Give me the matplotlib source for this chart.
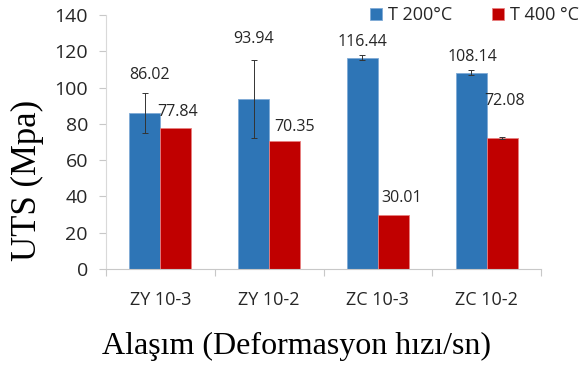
import matplotlib
matplotlib.use("Agg")
import matplotlib.pyplot as plt
from matplotlib.ticker import MultipleLocator, FixedLocator
import numpy as np

# Data
categories = ["ZY 10-3", "ZY 10-2", "ZC 10-3", "ZC 10-2"]
series_names = ["T 200°C", "T 400 °C"]
uts_200 = [86.02, 93.94, 116.44, 108.14]
uts_400 = [77.84, 70.35, 30.01, 72.08]
err_200 = [11.0, 21.5, 1.5, 1.5]
err_400 = [0.0, 0.0, 0.0, 0.7]

# Label offsets (points) from the top centre of each bar
label_off_200 = [(3, 27), (0, 43), (0, 11), (1, 11)]
label_off_400 = [(1, 11), (7, 10), (6, 12), (2, 27)]

BLUE = "#2E75B6"
RED = "#C00000"
GRID_GRAY = "#C8C8C8"
TEXT = "#262626"
SANS = "Open Sans"

fig = plt.figure(figsize=(5.8, 3.65), dpi=100)
ax = fig.add_axes([0.1828, 0.263, 0.75, 0.696])

x = np.arange(len(categories))
w = 0.285

b1 = ax.bar(x - w / 2, uts_200, w, color=BLUE, edgecolor="#7FAAD6", linewidth=0.6,
            label=series_names[0], zorder=2)
b2 = ax.bar(x + w / 2, uts_400, w, color=RED, edgecolor="#E88080", linewidth=0.6,
            label=series_names[1], zorder=2)

# Error bars (only where a spread was measured)
for xs, vals, errs in [(x - w / 2, uts_200, err_200), (x + w / 2, uts_400, err_400)]:
    for xi, v, e in zip(xs, vals, errs):
        if e > 0:
            ax.errorbar(xi, v, yerr=e, fmt="none", ecolor="#333333", elinewidth=0.7,
                        capsize=2.5, capthick=0.7, zorder=3)

# Value labels
for xs, vals, offs in [(x - w / 2, uts_200, label_off_200), (x + w / 2, uts_400, label_off_400)]:
    for xi, v, (dx, dy) in zip(xs, vals, offs):
        ax.annotate(f"{v:.2f}", xy=(xi, v), xytext=(dx, dy), textcoords="offset points",
                    ha="center", va="center", fontsize=11.5, color=TEXT, family=SANS)

ax.set_xlim(-0.5, len(categories) - 0.5)
ax.set_ylim(0, 140)
ax.yaxis.set_major_locator(MultipleLocator(20))

ax.set_xticks(x)
ax.set_xticklabels(categories, fontsize=13, color=TEXT, family=SANS)
ax.xaxis.set_minor_locator(FixedLocator(np.arange(-0.5, len(categories), 1.0)))
ax.tick_params(axis="x", which="major", length=0, pad=16)
ax.tick_params(axis="x", which="minor", length=5, width=0.8, color=GRID_GRAY, direction="out")
ax.tick_params(axis="y", which="major", length=5, width=0.8, color=GRID_GRAY, direction="out",
               labelsize=14, labelcolor=TEXT, pad=8)
for lab in ax.get_yticklabels():
    lab.set_family(SANS)

for s in ["top", "right"]:
    ax.spines[s].set_visible(False)
ax.spines["left"].set_color("#D9D9D9")
ax.spines["bottom"].set_color(GRID_GRAY)
ax.spines["left"].set_linewidth(0.8)
ax.spines["bottom"].set_linewidth(0.8)

fig.text(0.048, 0.505, "UTS (Mpa)", rotation=90, ha="center", va="center",
         fontsize=25, family="Liberation Serif", color="black")
fig.text(0.511, 0.05, "Alaşım (Deformasyon hızı/sn)", ha="center", va="center",
         fontsize=23, family="Liberation Serif", color="black")

leg = fig.legend(handles=[b1, b2], labels=series_names, loc="center right",
                 bbox_to_anchor=(0.998, 0.958), ncol=2, frameon=False,
                 borderpad=0.0, borderaxespad=0.0,
                 handlelength=0.7, handleheight=0.7, handletextpad=0.3,
                 columnspacing=2.2, prop={"family": SANS, "size": 13})
for t in leg.get_texts():
    t.set_color(TEXT)

fig.savefig("out.png", dpi=100)
